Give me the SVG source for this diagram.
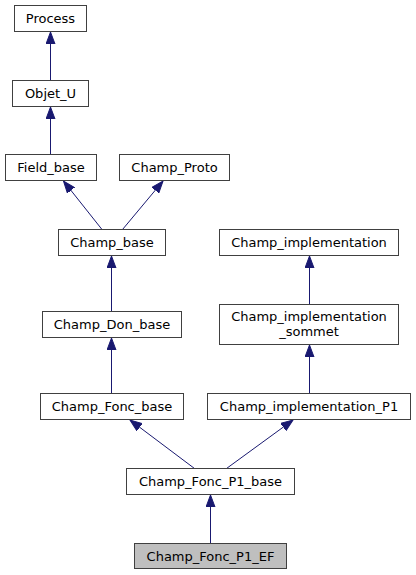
<svg xmlns="http://www.w3.org/2000/svg" width="416" height="575" viewBox="0 0 416 575">
<style>
.n rect{fill:#ffffff;stroke:#404040;stroke-width:1}
.n.cur rect{fill:#bfbfbf}
.n text{font-family:"DejaVu Sans","Liberation Sans",sans-serif;font-size:13px;fill:#000000;text-anchor:middle}
.e{stroke:#191970;stroke-width:1;fill:none;marker-end:url(#ah)}
</style>
<defs>
<marker id="ah" markerUnits="userSpaceOnUse" markerWidth="13" markerHeight="10" refX="12" refY="5" orient="auto">
<path d="M0,0.5 L12,5 L0,9.5 z" fill="#191970" stroke="#191970"/>
</marker>
</defs>
<rect width="416" height="575" fill="#ffffff"/>
<g id="edges">
<line class="e" x1="50.5" y1="80.5" x2="50.5" y2="32"/>
<line class="e" x1="50.5" y1="154.5" x2="50.5" y2="107"/>
<line class="e" x1="102" y1="229.5" x2="63.5" y2="181"/>
<line class="e" x1="122.5" y1="229.5" x2="163" y2="181"/>
<line class="e" x1="111.5" y1="311.5" x2="111.5" y2="256"/>
<line class="e" x1="309.5" y1="304.5" x2="309.5" y2="256"/>
<line class="e" x1="111.5" y1="393.5" x2="111.5" y2="338"/>
<line class="e" x1="309.5" y1="393.5" x2="309.5" y2="345"/>
<line class="e" x1="194.5" y1="468.5" x2="130" y2="420"/>
<line class="e" x1="226.5" y1="468.5" x2="293" y2="420"/>
<line class="e" x1="210.5" y1="543.5" x2="210.5" y2="495"/>
</g>
<g id="Process" class="n"><rect x="14.5" y="5.5" width="72" height="26"/><text x="50.5" y="22.5">Process</text></g>
<g id="Objet_U" class="n"><rect x="12.5" y="80.5" width="76" height="26"/><text x="50.5" y="97.5">Objet_U</text></g>
<g id="Field_base" class="n"><rect x="5.5" y="154.5" width="91" height="26"/><text x="51" y="172">Field_base</text></g>
<g id="Champ_Proto" class="n"><rect x="119.5" y="154.5" width="110" height="26"/><text x="174.5" y="172">Champ_Proto</text></g>
<g id="Champ_base" class="n"><rect x="58.5" y="229.5" width="107" height="26"/><text x="112" y="247">Champ_base</text></g>
<g id="Champ_implementation" class="n"><rect x="219.5" y="229.5" width="179" height="26"/><text x="309" y="247">Champ_implementation</text></g>
<g id="Champ_Don_base" class="n"><rect x="42.5" y="311.5" width="139" height="26"/><text x="112" y="329">Champ_Don_base</text></g>
<g id="Champ_implementation_sommet" class="n"><rect x="219.5" y="304.5" width="179" height="40"/><text x="309" y="321">Champ_implementation</text><text x="309" y="335.5">_sommet</text></g>
<g id="Champ_Fonc_base" class="n"><rect x="40.5" y="393.5" width="143" height="26"/><text x="112" y="411">Champ_Fonc_base</text></g>
<g id="Champ_implementation_P1" class="n"><rect x="207.5" y="393.5" width="203" height="26"/><text x="309" y="411">Champ_implementation_P1</text></g>
<g id="Champ_Fonc_P1_base" class="n"><rect x="126.5" y="468.5" width="168" height="26"/><text x="210.5" y="486">Champ_Fonc_P1_base</text></g>
<g id="Champ_Fonc_P1_EF" class="n cur"><rect x="134.5" y="543.5" width="152" height="25"/><text x="210.5" y="560.5">Champ_Fonc_P1_EF</text></g>
</svg>
